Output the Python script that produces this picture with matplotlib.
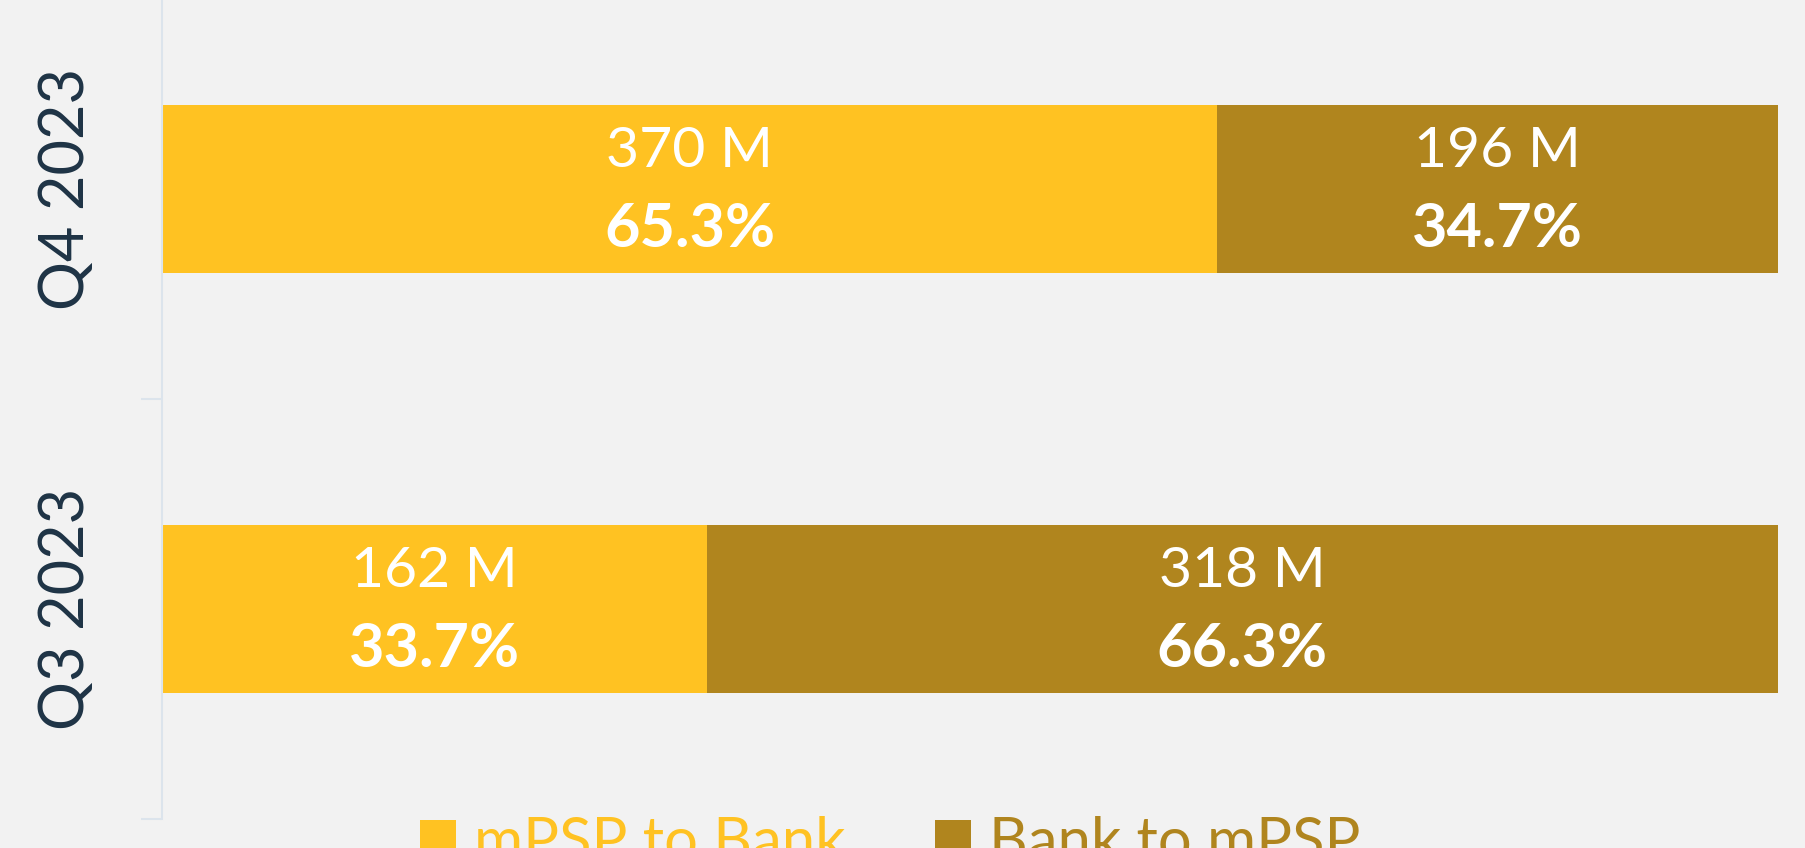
import matplotlib
matplotlib.use("Agg")
import matplotlib.pyplot as plt

categories = ["Q3 2023", "Q4 2023"]
series_names = ["mPSP to Bank", "Bank to mPSP"]
volumes_m = {
    "mPSP to Bank": [162, 370],
    "Bank to mPSP": [318, 196],
}
shares_pct = {
    "mPSP to Bank": [33.7, 65.3],
    "Bank to mPSP": [66.3, 34.7],
}
colors = {"mPSP to Bank": "#FFC222", "Bank to mPSP": "#B0851E"}

BG = "#F2F2F2"
FONT = ["Lato", "DejaVu Sans"]

fig = plt.figure(figsize=(18.06, 8.48), dpi=100, facecolor=BG)
ax = fig.add_axes([162 / 1806, 1 - 819 / 848, (1778 - 162) / 1806, 840 / 848])
ax.set_facecolor(BG)

ypos = list(range(len(categories)))
left = [0.0] * len(categories)
handles = []
for s in series_names:
    shares = shares_pct[s]
    bars = ax.barh(ypos, shares, left=left, height=0.4, color=colors[s], label=s)
    handles.append(bars)
    for i, b in enumerate(bars):
        cx = left[i] + shares[i] / 2
        ax.annotate(f"{volumes_m[s][i]} M", (cx, ypos[i]), xytext=(0, 27), textcoords="offset points",
                    ha="center", va="center", color="white", fontsize=41, family=FONT, fontweight="normal")
        ax.annotate(f"{shares[i]:.1f}%", (cx, ypos[i]), xytext=(0, -29), textcoords="offset points",
                    ha="center", va="center", color="white", fontsize=44, family=FONT, fontweight="bold")
    left = [left[i] + shares[i] for i in range(len(categories))]

ax.set_xlim(0, 100)
ax.set_ylim(-0.5, 1.5)
ax.set_xticks([])
for sp in ["top", "right", "bottom"]:
    ax.spines[sp].set_visible(False)
ax.spines["left"].set_color("#DCE4EC")
ax.spines["left"].set_linewidth(1.5)
ax.set_yticks(ypos)
ax.set_yticklabels(categories, rotation=90, va="center", ha="right",
                   fontsize=44, color="#1E3345", family=FONT)
ax.tick_params(axis="y", which="major", length=0, pad=48)
ax.set_yticks([-0.5, 0.5], minor=True)
ax.tick_params(axis="y", which="minor", length=15, width=1.5, color="#DCE4EC")

leg = fig.legend(handles=handles, labels=series_names, loc="upper center",
                 bbox_to_anchor=(0.493, 0.101), ncol=2, frameon=False,
                 prop={"family": FONT, "size": 43}, handlelength=0.6, handleheight=0.6,
                 handletextpad=0.3, columnspacing=1.5)
for t, s in zip(leg.get_texts(), series_names):
    t.set_color(colors[s])

fig.savefig("out.png", dpi=100, facecolor=BG)
